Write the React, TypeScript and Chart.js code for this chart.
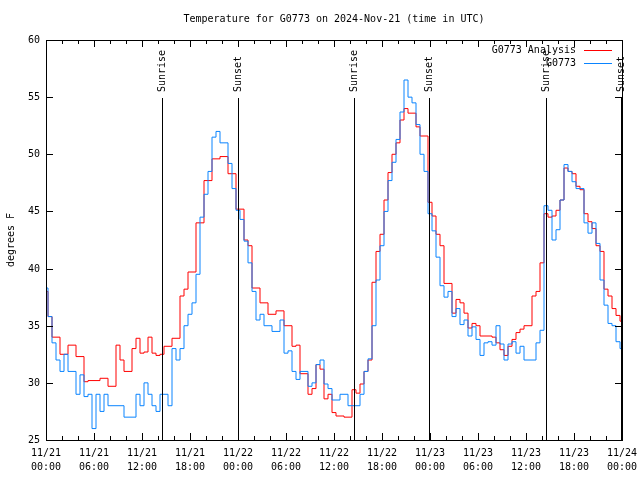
import React, { useEffect, useRef } from "react";
import { Chart, registerables } from "chart.js";

Chart.register(...registerables);

const TITLE = "Temperature for G0773 on 2024-Nov-21 (time in UTC)";
const Y_TITLE = "degrees F";
const SERIES_NAMES = ["G0773 Analysis", "G0773"];
const SERIES_COLORS = ["#ff0000", "#0a84ff"];

// hours since 11/21 00:00 UTC, one sample every half hour
const SAMPLE_STEP_HOURS = 0.5;

const ANALYSIS_F = [
  38, 35.8, 34, 34, 32.5, 32.5, 33.3, 33.3, 32.3, 32.3,
  30.1, 30.2, 30.2, 30.2, 30.4, 30.4, 29.7, 29.7, 33.3, 32,
  31, 31, 33, 33.9, 32.6, 32.7, 34, 32.6, 32.4, 32.5,
  33.2, 33.2, 33.9, 33.9, 37.6, 38.2, 39.7, 39.7, 44, 44,
  47.7, 47.7, 49.6, 49.6, 49.8, 49.8, 48.3, 48.3, 45.2, 45.2,
  42.5, 42, 38.3, 38.3, 37, 37, 36, 36, 36.3, 36.3,
  35, 35, 33.2, 33.3, 30.8, 30.8, 29, 29.5, 31.6, 31.2,
  28.6, 29, 27.4, 27.1, 27.1, 27, 27, 29.4, 29.1, 29.9,
  31, 32, 38.8, 41.5, 43, 46, 48.4, 50, 51, 53,
  54, 53.6, 53.6, 52.4, 51.6, 51.6, 45.8, 44.6, 43, 42,
  38.7, 38.7, 36.1, 37.3, 37, 36.1, 34.8, 35.2, 35, 34.1,
  34.1, 34.1, 34, 33.5, 32.9, 32.4, 33.2, 33.8, 34.4, 34.7,
  35, 35, 37.6, 38, 40.5, 44.8, 44.5, 44.6, 45.1, 46,
  48.8, 48.5, 48.3, 47.2, 46.9, 44.8, 44.1, 43.5, 42, 41.5,
  38.2, 37.6, 36.5, 35.9, 35.4,
];

const OBSERVED_F = [
  38.3, 35.8, 33.5, 32, 31, 32.5, 31, 31, 29, 30.7,
  28.8, 29, 26, 29, 27.5, 29, 28, 28, 28, 28,
  27, 27, 27, 29, 28, 30, 29, 28, 27.5, 29,
  29, 28, 33, 32, 33, 35, 36, 37, 39.5, 44.5,
  46.5, 48.5, 51.5, 52, 51, 51, 49.2, 47, 45.1, 44.3,
  42.4, 40.5, 38, 35.5, 36, 35, 35, 34.5, 34.5, 35.5,
  32.6, 32.8, 31, 30.3, 31, 31, 29.7, 30, 31.6, 32,
  29.9, 29.5, 28.5, 28.5, 29, 29, 28, 28, 28, 29,
  31, 32.1, 35, 39, 42, 45, 47.7, 49.3, 51.3, 53.7,
  56.5, 55, 54.5, 52.6, 50, 48.5, 44.8, 43.3, 41, 38.5,
  37.5, 38, 35.8, 36.5, 35.1, 35.5, 34.1, 34.9, 33.8, 32.4,
  33.5, 33.6, 33.3, 35, 33.4, 32, 33.4, 33.6, 32.6, 33.2,
  32, 32, 32, 33.5, 34.6, 45.5, 45.1, 42.5, 43.4, 46,
  49.1, 48.5, 47.6, 47, 47, 44, 43.1, 44, 42.2, 39,
  36.8, 35.2, 35, 33.6, 33,
];

const X_TICK_HOURS = [0, 6, 12, 18, 24, 30, 36, 42, 48, 54, 60, 66, 72];
const X_DATE_LABELS = ["11/21", "11/21", "11/21", "11/21", "11/22", "11/22", "11/22", "11/22", "11/23", "11/23", "11/23", "11/23", "11/24"];
const X_TIME_LABELS = ["00:00", "06:00", "12:00", "18:00", "00:00", "06:00", "12:00", "18:00", "00:00", "06:00", "12:00", "18:00", "00:00"];
const Y_TICKS = [25, 30, 35, 40, 45, 50, 55, 60];

const SUN_LABELS = ["Sunrise", "Sunset", "Sunrise", "Sunset", "Sunrise", "Sunset"];
const SUN_HOURS = [14.53, 23.95, 38.53, 47.92, 62.53, 71.9];

const FONT = '"DejaVu Sans Mono", "Liberation Mono", monospace';

const toPoints = (vals: number[]) => vals.map((v, i) => ({ x: i * SAMPLE_STEP_HOURS, y: v }));

const overlay = {
  id: "gnuplotOverlay",
  afterDraw(chart: any) {
    const { ctx, chartArea, scales } = chart;
    const xs = scales.x;
    const ys = scales.y;
    const L = Math.round(chartArea.left);
    const R = Math.round(chartArea.right);
    const T = Math.round(chartArea.top);
    const B = Math.round(chartArea.bottom);
    ctx.save();
    ctx.strokeStyle = "#000";
    ctx.fillStyle = "#000";
    ctx.lineWidth = 1;

    // sunrise / sunset markers
    ctx.font = "10px " + FONT;
    SUN_HOURS.forEach((h, i) => {
      const px = Math.round(xs.getPixelForValue(h)) + 0.5;
      ctx.beginPath();
      ctx.moveTo(px, T + 58);
      ctx.lineTo(px, B);
      ctx.stroke();
      ctx.save();
      ctx.translate(px, T + 52);
      ctx.rotate(-Math.PI / 2);
      ctx.textAlign = "left";
      ctx.textBaseline = "middle";
      ctx.fillText(SUN_LABELS[i], 0, 0);
      ctx.restore();
    });

    // frame
    ctx.strokeRect(L + 0.5, T + 0.5, R - L, B - T);

    // x ticks (inward, mirrored)
    for (let h = 0; h <= 72; h += 2) {
      const px = Math.round(xs.getPixelForValue(h)) + 0.5;
      const len = h % 6 === 0 ? 7 : 4;
      ctx.beginPath();
      ctx.moveTo(px, B);
      ctx.lineTo(px, B - len);
      ctx.moveTo(px, T);
      ctx.lineTo(px, T + len);
      ctx.stroke();
    }
    // y ticks and labels
    ctx.textAlign = "right";
    ctx.textBaseline = "middle";
    Y_TICKS.forEach((v) => {
      const py = Math.round(ys.getPixelForValue(v)) + 0.5;
      ctx.beginPath();
      ctx.moveTo(L, py);
      ctx.lineTo(L + 7, py);
      ctx.moveTo(R, py);
      ctx.lineTo(R - 7, py);
      ctx.stroke();
      ctx.fillText(String(v), 40, py);
    });

    // x tick labels (two lines)
    ctx.textAlign = "center";
    ctx.textBaseline = "middle";
    X_TICK_HOURS.forEach((h, i) => {
      const px = xs.getPixelForValue(h);
      ctx.fillText(X_DATE_LABELS[i], px, B + 13);
      ctx.fillText(X_TIME_LABELS[i], px, B + 27);
    });

    // title
    ctx.fillText(TITLE, (L + R) / 2, 19);

    // y axis title
    ctx.save();
    ctx.translate(11, 240);
    ctx.rotate(-Math.PI / 2);
    ctx.textAlign = "center";
    ctx.textBaseline = "middle";
    ctx.fillText(Y_TITLE, 0, 0);
    ctx.restore();

    // legend
    SERIES_NAMES.forEach((name, i) => {
      const ly = 50 + i * 13;
      ctx.textAlign = "right";
      ctx.textBaseline = "middle";
      ctx.fillStyle = "#000";
      ctx.fillText(name, 576, ly);
      ctx.strokeStyle = SERIES_COLORS[i];
      ctx.beginPath();
      ctx.moveTo(584, ly + 0.5);
      ctx.lineTo(612, ly + 0.5);
      ctx.stroke();
    });
    ctx.restore();
  },
};

export default function App() {
  const canvasRef = useRef<HTMLCanvasElement | null>(null);

  useEffect(() => {
    if (!canvasRef.current) return;
    const chart = new Chart(canvasRef.current, {
      type: "line",
      data: {
        datasets: [
          {
            label: SERIES_NAMES[0],
            data: toPoints(ANALYSIS_F),
            borderColor: SERIES_COLORS[0],
            borderWidth: 1,
            pointRadius: 0,
            stepped: "middle",
            fill: false,
            order: 2,
          },
          {
            label: SERIES_NAMES[1],
            data: toPoints(OBSERVED_F),
            borderColor: SERIES_COLORS[1],
            borderWidth: 1,
            pointRadius: 0,
            stepped: "middle",
            fill: false,
            order: 1,
          },
        ],
      },
      options: {
        animation: false,
        responsive: true,
        maintainAspectRatio: false,
        layout: { padding: { top: 40, right: 18, left: 0, bottom: 0 } },
        plugins: {
          legend: { display: false },
          tooltip: { enabled: false },
          title: { display: false },
        },
        scales: {
          x: {
            type: "linear",
            min: 0,
            max: 72,
            afterFit: (s: any) => {
              s.height = 40;
            },
            grid: { display: false },
            border: { display: false },
            ticks: { display: false, stepSize: 6 },
          },
          y: {
            min: 25,
            max: 60,
            afterFit: (s: any) => {
              s.width = 46;
            },
            grid: { display: false },
            border: { display: false },
            ticks: { display: false, stepSize: 5 },
          },
        },
      },
      plugins: [overlay],
    });
    return () => chart.destroy();
  }, []);

  return (
    <div style={{ position: "absolute", left: 0, top: 0, width: 640, height: 480, background: "#fff" }}>
      <canvas ref={canvasRef} />
    </div>
  );
}
